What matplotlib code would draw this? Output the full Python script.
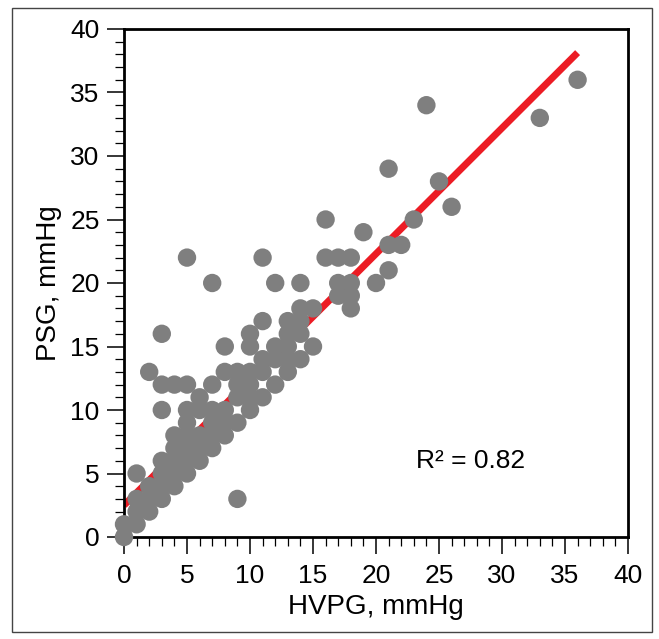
import matplotlib
matplotlib.use("Agg")
import matplotlib.pyplot as plt
from matplotlib.patches import Rectangle
from matplotlib.ticker import MultipleLocator

plt.rcParams['font.family'] = ['Liberation Sans', 'DejaVu Sans']

# HVPG vs PSG readings (mmHg)
hvpg = [0, 0, 1, 1, 1, 1, 2, 2, 2, 2, 3, 3, 3, 3, 3, 3, 3, 4, 4, 4, 4, 4, 4,
        5, 5, 5, 5, 5, 5, 5, 5, 6, 6, 6, 6, 6, 7, 7, 7, 7, 7, 7, 8, 8, 8, 8, 8,
        9, 9, 9, 9, 9, 10, 10, 10, 10, 10, 10, 11, 11, 11, 11, 11, 12, 12, 12, 12,
        13, 13, 13, 13, 13, 14, 14, 14, 14, 14, 15, 15, 16, 16, 17, 17, 17,
        18, 18, 18, 18, 19, 20, 21, 21, 21, 22, 23, 24, 25, 26, 33, 36]
psg = [0, 1, 1, 2, 3, 5, 2, 3, 4, 13, 3, 4, 5, 6, 10, 12, 16, 4, 5, 6, 7, 8, 12,
       5, 6, 7, 8, 9, 10, 12, 22, 6, 7, 8, 10, 11, 7, 8, 9, 10, 12, 20, 8, 9, 10, 13, 15,
       3, 9, 11, 12, 13, 10, 11, 12, 13, 15, 16, 11, 13, 14, 17, 22, 12, 14, 15, 20,
       13, 14, 15, 16, 17, 14, 16, 17, 18, 20, 15, 18, 22, 25, 19, 20, 22,
       18, 19, 20, 22, 24, 20, 21, 23, 29, 23, 25, 34, 28, 26, 33, 36]

# regression line
fit_x = [0, 36]
fit_slope = 0.99
fit_icpt = 2.5
r2_text = "R² = 0.82"

fig = plt.figure(figsize=(6.59, 6.39), dpi=100)
ax = fig.add_axes([124/659, 1 - 537/639, 504/659, 508/639])

fit_y = [fit_icpt + fit_slope * v for v in fit_x]
ax.plot(fit_x, fit_y, color='#ec1c24', lw=5, solid_capstyle='butt', zorder=2)
ax.scatter(hvpg, psg, s=175, color='#7f7f7f', edgecolors='none', zorder=5, clip_on=False)

ax.set_xlim(0, 40)
ax.set_ylim(0, 40)
ax.xaxis.set_major_locator(MultipleLocator(5))
ax.yaxis.set_major_locator(MultipleLocator(5))
ax.xaxis.set_minor_locator(MultipleLocator(1))
ax.yaxis.set_minor_locator(MultipleLocator(1))
ax.tick_params(which='major', direction='out', length=12.5, width=1.1, labelsize=19)
ax.tick_params(which='minor', direction='out', length=6.5, width=0.9)
ax.tick_params(axis='x', which='major', pad=7)
ax.tick_params(axis='y', which='major', pad=5)
ax.tick_params(top=False, right=False, which='both')
for sp in ax.spines.values():
    sp.set_linewidth(2)
    sp.set_zorder(3)

ax.set_xlabel("HVPG, mmHg", fontsize=20, labelpad=4)
ax.set_ylabel("PSG, mmHg", fontsize=20, labelpad=6)
ax.text(27.5, 6, r2_text, fontsize=19, ha='center', va='center')

# outer frame around the figure
fig.patches.append(Rectangle((12/659, 1 - 632/639), 640/659, 624/639, transform=fig.transFigure,
                             fill=False, edgecolor='#444444', lw=1))

fig.savefig("out.png", dpi=100)
